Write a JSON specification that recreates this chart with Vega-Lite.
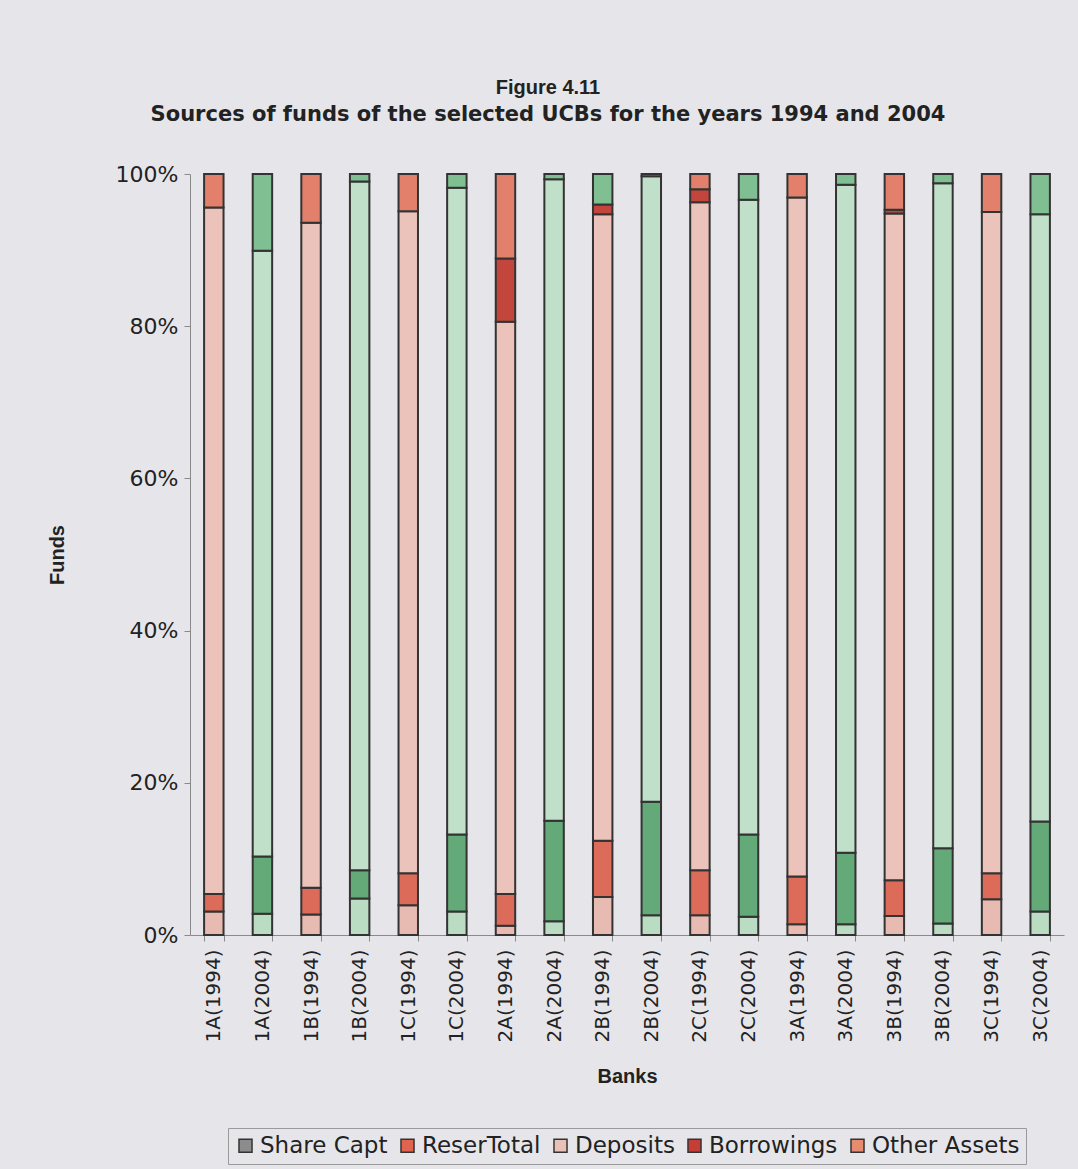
{
  "$schema": "https://vega.github.io/schema/vega-lite/v6.json",
  "autosize": "none",
  "width": 874,
  "height": 761,
  "padding": {"left": 190, "top": 174, "right": 14, "bottom": 234},
  "background": "#e6e6ea",
  "title": {
    "text": "Figure 4.11",
    "subtitle": "Sources of funds of the selected UCBs for the years 1994 and 2004",
    "font": "Liberation Sans",
    "subtitleFont": "DejaVu Sans",
    "fontSize": 20,
    "subtitleFontSize": 21,
    "fontWeight": "bold",
    "subtitleFontWeight": "bold",
    "color": "#222222",
    "subtitleColor": "#222222",
    "anchor": "middle",
    "dx": -79,
    "offset": 38,
    "subtitlePadding": 6
  },
  "data": {
    "values": [
      {"bank": "1A(1994)", "year": "1994", "item": "Share Capt", "value": 3.1},
      {"bank": "1A(1994)", "year": "1994", "item": "ReserTotal", "value": 2.3},
      {"bank": "1A(1994)", "year": "1994", "item": "Deposits", "value": 90.2},
      {"bank": "1A(1994)", "year": "1994", "item": "Other Assets", "value": 4.4},
      {"bank": "1A(2004)", "year": "2004", "item": "Share Capt", "value": 2.8},
      {"bank": "1A(2004)", "year": "2004", "item": "ReserTotal", "value": 7.5},
      {"bank": "1A(2004)", "year": "2004", "item": "Deposits", "value": 79.6},
      {"bank": "1A(2004)", "year": "2004", "item": "Other Assets", "value": 10.1},
      {"bank": "1B(1994)", "year": "1994", "item": "Share Capt", "value": 2.7},
      {"bank": "1B(1994)", "year": "1994", "item": "ReserTotal", "value": 3.5},
      {"bank": "1B(1994)", "year": "1994", "item": "Deposits", "value": 87.4},
      {"bank": "1B(1994)", "year": "1994", "item": "Other Assets", "value": 6.4},
      {"bank": "1B(2004)", "year": "2004", "item": "Share Capt", "value": 4.8},
      {"bank": "1B(2004)", "year": "2004", "item": "ReserTotal", "value": 3.7},
      {"bank": "1B(2004)", "year": "2004", "item": "Deposits", "value": 90.5},
      {"bank": "1B(2004)", "year": "2004", "item": "Other Assets", "value": 1.0},
      {"bank": "1C(1994)", "year": "1994", "item": "Share Capt", "value": 3.9},
      {"bank": "1C(1994)", "year": "1994", "item": "ReserTotal", "value": 4.2},
      {"bank": "1C(1994)", "year": "1994", "item": "Deposits", "value": 87.0},
      {"bank": "1C(1994)", "year": "1994", "item": "Other Assets", "value": 4.9},
      {"bank": "1C(2004)", "year": "2004", "item": "Share Capt", "value": 3.1},
      {"bank": "1C(2004)", "year": "2004", "item": "ReserTotal", "value": 10.1},
      {"bank": "1C(2004)", "year": "2004", "item": "Deposits", "value": 85.0},
      {"bank": "1C(2004)", "year": "2004", "item": "Other Assets", "value": 1.8},
      {"bank": "2A(1994)", "year": "1994", "item": "Share Capt", "value": 1.2},
      {"bank": "2A(1994)", "year": "1994", "item": "ReserTotal", "value": 4.2},
      {"bank": "2A(1994)", "year": "1994", "item": "Deposits", "value": 75.2},
      {"bank": "2A(1994)", "year": "1994", "item": "Borrowings", "value": 8.3},
      {"bank": "2A(1994)", "year": "1994", "item": "Other Assets", "value": 11.1},
      {"bank": "2A(2004)", "year": "2004", "item": "Share Capt", "value": 1.8},
      {"bank": "2A(2004)", "year": "2004", "item": "ReserTotal", "value": 13.2},
      {"bank": "2A(2004)", "year": "2004", "item": "Deposits", "value": 84.3},
      {"bank": "2A(2004)", "year": "2004", "item": "Other Assets", "value": 0.7},
      {"bank": "2B(1994)", "year": "1994", "item": "Share Capt", "value": 5.0},
      {"bank": "2B(1994)", "year": "1994", "item": "ReserTotal", "value": 7.4},
      {"bank": "2B(1994)", "year": "1994", "item": "Deposits", "value": 82.3},
      {"bank": "2B(1994)", "year": "1994", "item": "Borrowings", "value": 1.3},
      {"bank": "2B(1994)", "year": "1994", "item": "Other Assets", "value": 4.0},
      {"bank": "2B(2004)", "year": "2004", "item": "Share Capt", "value": 2.6},
      {"bank": "2B(2004)", "year": "2004", "item": "ReserTotal", "value": 14.9},
      {"bank": "2B(2004)", "year": "2004", "item": "Deposits", "value": 82.2},
      {"bank": "2B(2004)", "year": "2004", "item": "Other Assets", "value": 0.3},
      {"bank": "2C(1994)", "year": "1994", "item": "Share Capt", "value": 2.6},
      {"bank": "2C(1994)", "year": "1994", "item": "ReserTotal", "value": 5.9},
      {"bank": "2C(1994)", "year": "1994", "item": "Deposits", "value": 87.8},
      {"bank": "2C(1994)", "year": "1994", "item": "Borrowings", "value": 1.7},
      {"bank": "2C(1994)", "year": "1994", "item": "Other Assets", "value": 2.0},
      {"bank": "2C(2004)", "year": "2004", "item": "Share Capt", "value": 2.4},
      {"bank": "2C(2004)", "year": "2004", "item": "ReserTotal", "value": 10.8},
      {"bank": "2C(2004)", "year": "2004", "item": "Deposits", "value": 83.4},
      {"bank": "2C(2004)", "year": "2004", "item": "Other Assets", "value": 3.4},
      {"bank": "3A(1994)", "year": "1994", "item": "Share Capt", "value": 1.4},
      {"bank": "3A(1994)", "year": "1994", "item": "ReserTotal", "value": 6.3},
      {"bank": "3A(1994)", "year": "1994", "item": "Deposits", "value": 89.2},
      {"bank": "3A(1994)", "year": "1994", "item": "Other Assets", "value": 3.1},
      {"bank": "3A(2004)", "year": "2004", "item": "Share Capt", "value": 1.4},
      {"bank": "3A(2004)", "year": "2004", "item": "ReserTotal", "value": 9.4},
      {"bank": "3A(2004)", "year": "2004", "item": "Deposits", "value": 87.8},
      {"bank": "3A(2004)", "year": "2004", "item": "Other Assets", "value": 1.4},
      {"bank": "3B(1994)", "year": "1994", "item": "Share Capt", "value": 2.5},
      {"bank": "3B(1994)", "year": "1994", "item": "ReserTotal", "value": 4.7},
      {"bank": "3B(1994)", "year": "1994", "item": "Deposits", "value": 87.6},
      {"bank": "3B(1994)", "year": "1994", "item": "Borrowings", "value": 0.5},
      {"bank": "3B(1994)", "year": "1994", "item": "Other Assets", "value": 4.7},
      {"bank": "3B(2004)", "year": "2004", "item": "Share Capt", "value": 1.5},
      {"bank": "3B(2004)", "year": "2004", "item": "ReserTotal", "value": 9.9},
      {"bank": "3B(2004)", "year": "2004", "item": "Deposits", "value": 87.4},
      {"bank": "3B(2004)", "year": "2004", "item": "Other Assets", "value": 1.2},
      {"bank": "3C(1994)", "year": "1994", "item": "Share Capt", "value": 4.7},
      {"bank": "3C(1994)", "year": "1994", "item": "ReserTotal", "value": 3.4},
      {"bank": "3C(1994)", "year": "1994", "item": "Deposits", "value": 86.9},
      {"bank": "3C(1994)", "year": "1994", "item": "Other Assets", "value": 5.0},
      {"bank": "3C(2004)", "year": "2004", "item": "Share Capt", "value": 3.1},
      {"bank": "3C(2004)", "year": "2004", "item": "ReserTotal", "value": 11.8},
      {"bank": "3C(2004)", "year": "2004", "item": "Deposits", "value": 79.8},
      {"bank": "3C(2004)", "year": "2004", "item": "Other Assets", "value": 5.3}
    ]
  },
  "transform": [
    {"calculate": "indexof(['Share Capt','ReserTotal','Deposits','Borrowings','Other Assets'], datum.item)", "as": "stackRank"},
    {"calculate": "datum.item + '|' + ((datum.bank === '2B(1994)' && datum.item === 'Other Assets') ? '2004' : datum.year)", "as": "shade"}
  ],
  "mark": {"type": "bar", "stroke": "#333333", "strokeWidth": 2},
  "encoding": {
    "x": {
      "field": "bank",
      "type": "nominal",
      "sort": null,
      "scale": {"paddingInner": 0.6, "paddingOuter": 0.29},
      "axis": {
        "title": "Banks",
        "titleFont": "Liberation Sans",
        "titleFontSize": 20,
        "titleFontWeight": "bold",
        "titleColor": "#222222",
        "titlePadding": 24,
        "labelAngle": -90,
        "labelFont": "DejaVu Sans",
        "labelFontSize": 20,
        "labelColor": "#222222",
        "labelPadding": 8,
        "domainColor": "#8a8a8a",
        "tickColor": "#8a8a8a",
        "tickSize": 6,
        "tickBand": "extent"
      }
    },
    "y": {
      "field": "value",
      "type": "quantitative",
      "stack": "normalize",
      "axis": {
        "title": "Funds",
        "titleFont": "Liberation Sans",
        "titleFontSize": 20,
        "titleFontWeight": "bold",
        "titleColor": "#222222",
        "titlePadding": 48,
        "format": ".0%",
        "values": [0, 0.2, 0.4, 0.6, 0.8, 1],
        "labelFont": "DejaVu Sans",
        "labelFontSize": 22,
        "labelColor": "#222222",
        "labelPadding": 6,
        "grid": false,
        "domainColor": "#8a8a8a",
        "tickColor": "#8a8a8a",
        "tickSize": 6
      }
    },
    "order": {"field": "stackRank", "type": "quantitative", "sort": "ascending"},
    "color": {
      "field": "shade",
      "type": "nominal",
      "scale": {
        "domain": [
          "Share Capt", "ReserTotal", "Deposits", "Borrowings", "Other Assets",
          "Share Capt|1994", "ReserTotal|1994", "Deposits|1994", "Borrowings|1994", "Other Assets|1994",
          "Share Capt|2004", "ReserTotal|2004", "Deposits|2004", "Borrowings|2004", "Other Assets|2004"
        ],
        "range": [
          "#8c8c8c", "#e0644e", "#e9c1b6", "#c53e36", "#e88c70",
          "#e8bbb2", "#dc6b5a", "#ebc3bb", "#c2463b", "#e2806c",
          "#b9dcc2", "#63aa78", "#c1e0c9", "#4f9a66", "#80bf91"
        ]
      },
      "legend": {
        "values": ["Share Capt", "ReserTotal", "Deposits", "Borrowings", "Other Assets"],
        "title": null,
        "orient": "none",
        "legendX": 38,
        "legendY": 954,
        "direction": "horizontal",
        "symbolType": "square",
        "symbolSize": 170,
        "symbolStrokeColor": "#333333",
        "symbolStrokeWidth": 1.5,
        "labelFont": "DejaVu Sans",
        "labelFontSize": 23,
        "labelColor": "#222222",
        "labelOffset": 3,
        "columnPadding": 8,
        "strokeColor": "#9a9a9a",
        "padding": 6
      }
    }
  },
  "config": {
    "view": {"stroke": null}
  }
}
